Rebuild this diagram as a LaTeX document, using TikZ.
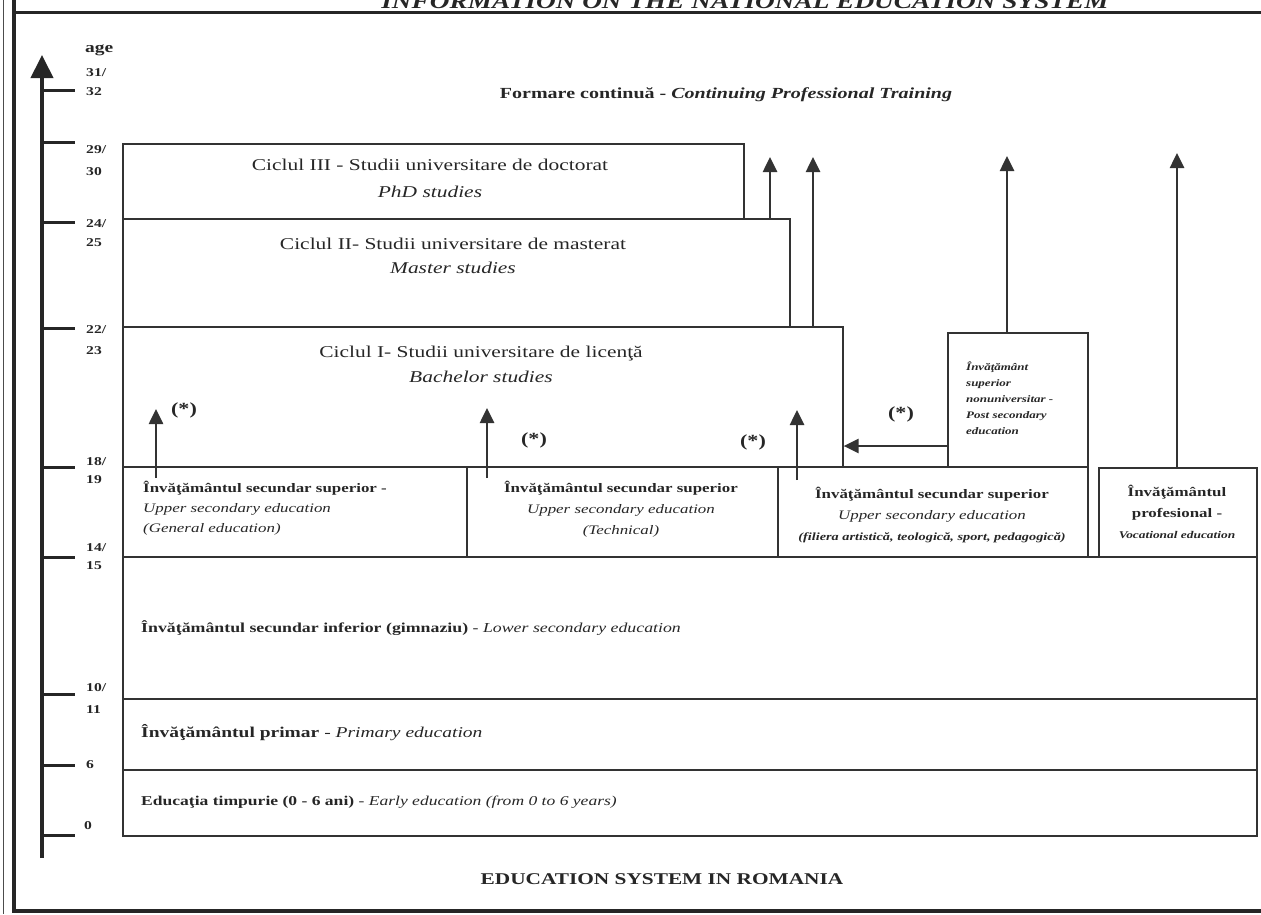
\documentclass[tikz,border=0pt]{standalone}
\usepackage{fontspec}
\setmainfont{Liberation Serif}[FakeStretch=1.3]
\usetikzlibrary{arrows.meta}
\tikzset{
  box/.style={draw=black!80, line width=1.6pt, anchor=north west, inner sep=0pt},
  lbl/.style={inner sep=0pt, text=black!85},
  agel/.style={inner sep=0pt, anchor=west, font=\bfseries\fontsize{12}{13}\selectfont, text=black!85},
  tick/.style={line width=3pt, draw=black!85},
  arr/.style={line width=2.6pt, draw=black!80, -{Triangle[length=15pt,width=14pt]}},
  star/.style={inner sep=0pt, font=\bfseries\fontsize{17}{18}\selectfont, text=black!85},
}
\begin{document}
\begin{tikzpicture}[x=1pt,y=-1pt]
\useasboundingbox (0,0) rectangle (1261,914);
% frame
\draw[line width=0.9pt, black!70] (3,0) -- (3,914);
\draw[line width=3.5pt, black!85] (14,0) -- (14,911) -- (1261,911);
\draw[line width=3.5pt, black!85] (14,12.5) -- (1261,12.5);
\node[lbl, font=\bfseries\itshape\fontsize{21}{22}\selectfont, anchor=base] (title) at (745,8) {INFORMATION ON THE NATIONAL EDUCATION SYSTEM};

% axis
\coordinate (ax0) at (42,858);
\coordinate (ax1) at (42,55);
\draw[line width=4pt, black!85, -{Triangle[length=23pt,width=22pt]}] (ax0) -- (ax1);
\node[lbl, font=\bfseries\fontsize{15}{16}\selectfont, anchor=west] (age) at (85,50) {age};
\foreach \y/\nm in {90/a,142/b,222/c,328/d,467/e,557/f,694/g,765/h,835/i}{
  \coordinate (tk\nm) at (75,\y);
  \draw[tick] (tk\nm -| ax0) -- (tk\nm);
}
\node[agel] (l31) at (86,73) {31/};
\node[agel] (l32) at (86,92) {32};
\node[agel] (l29) at (86,150) {29/};
\node[agel] (l30) at (86,172) {30};
\node[agel] (l24) at (86,224) {24/};
\node[agel] (l25) at (86,243) {25};
\node[agel] (l22) at (86,330) {22/};
\node[agel] (l23) at (86,351) {23};
\node[agel] (l18) at (86,462) {18/};
\node[agel] (l19) at (86,480) {19};
\node[agel] (l14) at (86,548) {14/};
\node[agel] (l15) at (86,566) {15};
\node[agel] (l10) at (86,688) {10/};
\node[agel] (l11) at (86,710) {11};
\node[agel] (l6) at (86,765) {6};
\node[agel] (l0) at (84,826) {0};

% continuing training
\node[lbl, font=\bfseries\fontsize{15.4}{17}\selectfont] (cont) at (726,95) {Formare continuă - \textit{Continuing Professional Training}};

% university boxes
\node[box, minimum width=621pt, minimum height=75pt] (c3) at (122,143) {};
\node[box, minimum width=667pt, minimum height=108pt] (c2) at (122,218) {};
\node[box, minimum width=720pt, minimum height=140pt] (c1) at (122,326) {};
\node[lbl, align=center, font=\fontsize{16.5}{27}\selectfont] (c3t) at (430,178) {Ciclul III - Studii universitare de doctorat\\\textit{PhD studies}};
\node[lbl, align=center, font=\fontsize{16.5}{24}\selectfont] (c2t) at (453,256) {Ciclul II- Studii universitare de masterat\\\textit{Master studies}};
\node[lbl, align=center, font=\fontsize{16.5}{25}\selectfont] (c1t) at (481,364) {Ciclul I- Studii universitare de licenţă\\\textit{Bachelor studies}};

% post-secondary
\node[box, minimum width=140pt, minimum height=134pt] (ps) at (947,332) {};
\node[lbl, anchor=north west, align=left, font=\bfseries\itshape\fontsize{10}{16}\selectfont] (pst) at (966,362) {Învăţământ\\superior\\nonuniversitar -\\Post secondary\\education};

% upper secondary row
\node[box, minimum width=344pt, minimum height=90pt] (u1) at (122,466) {};
\node[box, minimum width=311pt, minimum height=90pt] (u2) at (466,466) {};
\node[box, minimum width=310pt, minimum height=90pt] (u3) at (777,466) {};
\node[box, minimum width=158pt, minimum height=89pt] (u4) at (1098,467) {};
\node[lbl, anchor=north west, align=left, font=\fontsize{13}{20}\selectfont] (u1t) at (143,481) {\textbf{Învăţământul secundar superior -}\\\textit{Upper secondary education}\\\textit{(General education)}};
\node[lbl, align=center, font=\fontsize{13}{21}\selectfont] (u2t) at (621,509) {\textbf{Învăţământul secundar superior}\\\textit{Upper secondary education}\\\textit{(Technical)}};
\node[lbl, align=center, font=\fontsize{13}{21}\selectfont] (u3t) at (932,515) {\textbf{Învăţământul secundar superior}\\\textit{Upper secondary education}\\{\bfseries\itshape\fontsize{11}{12}\selectfont (filiera artistică, teologică, sport, pedagogică)}};
\node[lbl, align=center, font=\fontsize{13}{21}\selectfont] (u4t) at (1177,512) {\textbf{Învăţământul}\\\textbf{profesional -}\\{\bfseries\itshape\fontsize{10.3}{12}\selectfont Vocational education}};

% lower rows
\node[box, minimum width=1134pt, minimum height=142pt] (ls) at (122,556) {};
\node[box, minimum width=1134pt, minimum height=71pt] (pr) at (122,698) {};
\node[box, minimum width=1134pt, minimum height=66pt] (ee) at (122,769) {};
\node[lbl, anchor=west, font=\fontsize{13.7}{15}\selectfont] (lst) at (141,628) {\textbf{Învăţământul secundar inferior (gimnaziu)} - \textit{Lower secondary education}};
\node[lbl, anchor=west, font=\fontsize{15}{16}\selectfont] (prt) at (141,733) {\textbf{Învăţământul primar} - \textit{Primary education}};
\node[lbl, anchor=west, font=\fontsize{13.5}{15}\selectfont] (eet) at (141,802) {\textbf{Educaţia timpurie (0 - 6 ani)} - \textit{Early education (from 0 to 6 years)}};

% upward arrows to continuing training
\coordinate (t1) at (770,157);
\coordinate (t2) at (813,157);
\coordinate (t3) at (1007,156);
\coordinate (t4) at (1177,153);
\draw[arr] (t1 |- c2.north) -- (t1);
\draw[arr] (t2 |- c1.north) -- (t2);
\draw[arr] (t3 |- ps.north) -- (t3);
\draw[arr] (t4 |- u4.north) -- (t4);

% arrows from upper secondary into bachelor
\coordinate (s1) at (156,478); \coordinate (e1) at (156,409);
\coordinate (s2) at (487,478); \coordinate (e2) at (487,408);
\coordinate (s3) at (797,480); \coordinate (e3) at (797,410);
\draw[arr] (s1) -- (e1);
\draw[arr] (s2) -- (e2);
\draw[arr] (s3) -- (e3);
\coordinate (h) at (0,446);
\draw[arr] (ps.west |- h) -- (c1.east |- h);

\node[star] (st1) at (184,410) {(*)};
\node[star] (st2) at (534,440) {(*)};
\node[star] (st3) at (753,442) {(*)};
\node[star] (st4) at (901,414) {(*)};

% caption
\node[lbl, font=\bfseries\fontsize{16.4}{18}\selectfont] (cap) at (662,879) {EDUCATION SYSTEM IN ROMANIA};
\end{tikzpicture}
\end{document}
